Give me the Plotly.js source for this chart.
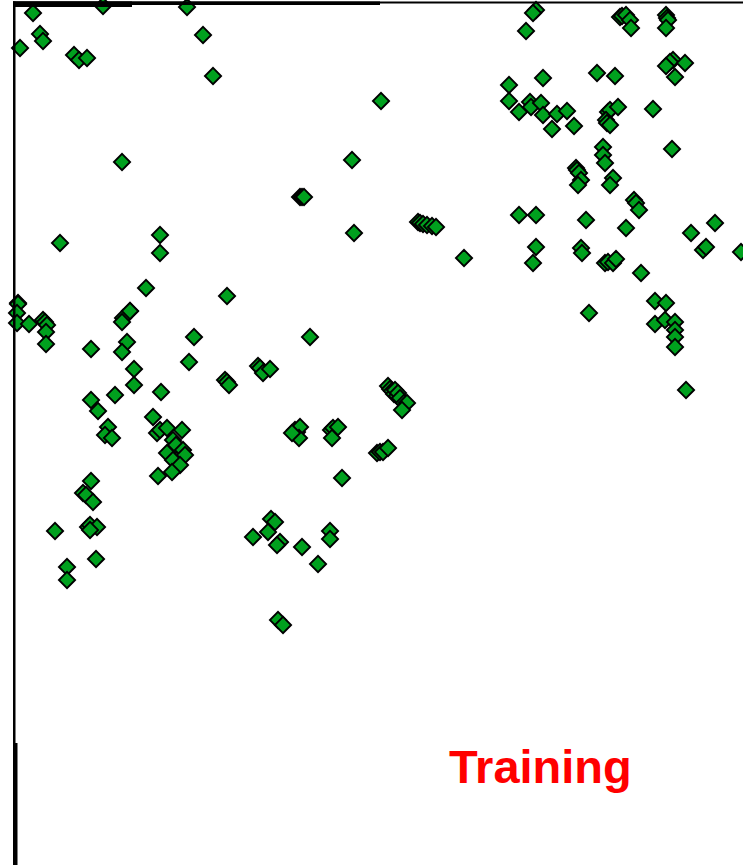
<!DOCTYPE html>
<html><head><meta charset="utf-8">
<script src="https://cdn.plot.ly/plotly-3.0.1.min.js"></script>
<style>html,body{margin:0;padding:0;background:#fff}#chart{width:743px;height:865px}</style>
</head><body><div id="chart"></div>
<script>
// Training sample positions (plot units)
const pointX = [
  33,103,187,40,43,20,74,79,87,203,213,122,60,160,160,146,227,130,123,18,
  381,352,300,302,304,354,418,420,423,427,432,436,464,
  536,533,526,620,622,626,630,631,666,667,668,666,673,670,666,685,675,597,615,543,509,509,
  519,530,531,541,543,557,567,552,574,608,610,618,606,607,610,653,672,603,603,605,576,577,579,
  581,578,613,610,634,636,639,519,536,586,626,691,715,703,706,741,536,533,581,582,
  605,608,613,616,641,655,666,589,655,665,675,675,675,675,686,
  18,17,17,29,43,45,47,46,46,91,130,122,127,122,134,134,194,189,225,227,229,161,
  115,91,98,108,105,112,153,157,160,167,182,173,176,183,185,167,173,180,172,158,
  91,83,86,93,88,90,97,90,55,96,67,67,
  310,258,260,263,270,388,390,392,394,395,397,398,400,404,407,402,295,297,300,299,292,331,333,332,338,
  377,380,383,388,342,271,275,268,253,280,277,302,330,330,318,278,283
];
const pointY = [
  13,6,7,34,41,48,55,60,58,35,76,162,243,235,253,288,296,311,318,303,
  101,160,197,197,197,233,222,223,224,225,226,227,258,
  10,13,31,17,16,15,20,28,15,18,20,28,60,62,66,63,77,73,76,78,85,101,
  112,102,107,103,115,114,111,129,126,112,110,107,120,123,125,109,149,147,155,163,168,170,173,
  180,185,178,185,200,203,210,215,215,220,228,233,223,250,247,252,247,263,248,253,
  263,262,263,259,273,301,303,313,324,320,322,330,337,347,390,
  304,313,323,324,320,322,325,332,344,349,311,322,342,352,369,385,337,362,380,382,385,392,
  395,400,411,427,435,438,417,433,430,428,430,440,445,450,455,453,460,465,472,476,
  481,493,495,502,527,525,527,530,531,559,567,580,
  337,366,368,373,369,386,389,391,394,390,396,393,398,403,403,410,430,432,427,438,433,430,428,438,427,
  453,452,452,448,478,519,522,532,537,542,545,547,531,539,564,620,625
];
const labelText = "Training";

const trace = {
  type: "scatter",
  mode: "markers",
  x: pointX,
  y: pointY,
  marker: {
    symbol: "diamond",
    size: 12.5,
    color: "#00a01e",
    line: { color: "#000000", width: 1.8 }
  },
  hoverinfo: "skip",
  showlegend: false
};

const rect = (x0, y0, x1, y1) => ({
  type: "rect", xref: "x", yref: "y", x0, y0, x1, y1,
  fillcolor: "#000", line: { width: 0 }, layer: "above"
});

const layout = {
  width: 743, height: 865,
  margin: { l: 0, r: 0, t: 0, b: 0, pad: 0 },
  paper_bgcolor: "#fff", plot_bgcolor: "#fff",
  xaxis: { range: [0, 743], visible: false, fixedrange: true },
  yaxis: { range: [865, 0], visible: false, fixedrange: true },
  shapes: [
    rect(13, 1.5, 743, 3.5),
    rect(13, 1.5, 380, 5),
    rect(13, 1.5, 132, 7),
    rect(13, 1.5, 15.5, 745),
    rect(13, 743, 17.5, 865)
  ],
  annotations: [{
    x: 540, y: 766, xref: "x", yref: "y",
    text: "<b>" + labelText + "</b>",
    showarrow: false,
    font: { family: "Liberation Sans, Arial, sans-serif", size: 47, color: "#ff0000" },
    xanchor: "center", yanchor: "middle"
  }]
};

Plotly.newPlot("chart", [trace], layout, { staticPlot: true, displayModeBar: false });
</script>
</body></html>
